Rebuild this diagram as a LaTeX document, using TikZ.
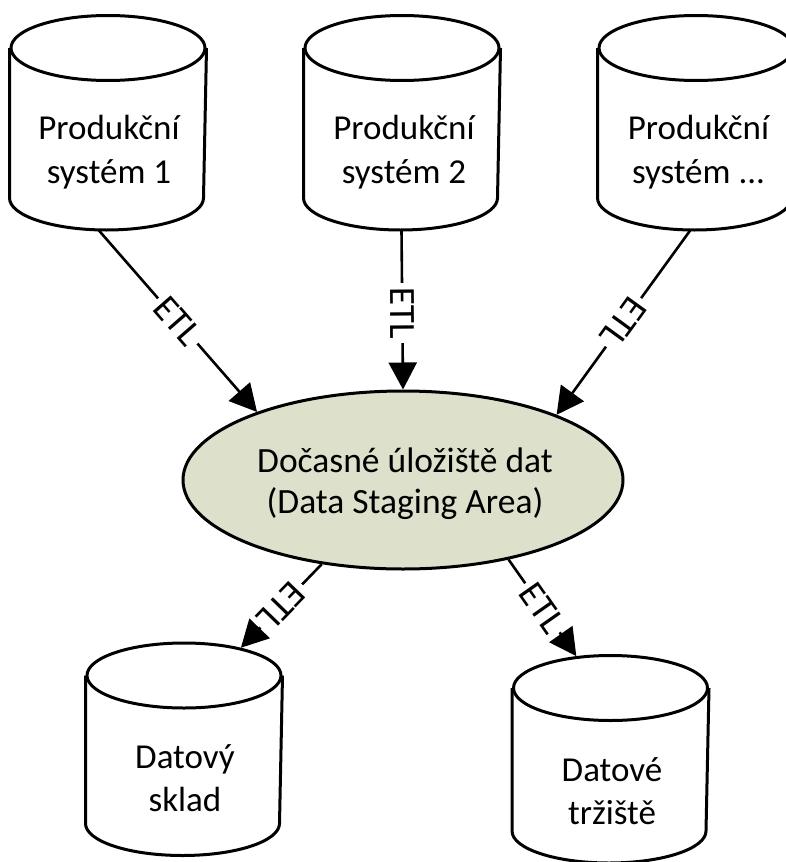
\documentclass[tikz,border=0pt]{standalone}
\usepackage{fontspec}
\setmainfont{Carlito}
\usetikzlibrary{shapes.geometric,arrows.meta,calc}
\definecolor{stagingfill}{HTML}{DDE1CB}
\begin{document}
\begin{tikzpicture}[x=1pt,y=-1pt,line width=3pt,
db node/.style={ellipse,draw,minimum width=194pt,minimum height=65pt,inner sep=0pt},
main node/.style={font=\fontsize{35}{44}\selectfont,align=center,inner sep=0pt},
etl node/.style={font=\fontsize{37}{37}\selectfont,fill=white,inner xsep=4pt,inner ysep=0pt,sloped,allow upside down},
etl edge/.style={line width=2.6pt,-{Triangle[length=27pt,width=28pt]}}]
\useasboundingbox (0,0) rectangle (786,862);
\begin{scope}
\node[db node] (s1) at (108,48) {};%1
\node[db node] (s2) at (402,48) {};%2
\node[db node] (s3) at (696,48) {};%3
\node[db node] (w1) at (184,675.5) {};%4
\node[db node] (w2) at (610.5,688) {};%5
\end{scope}
\foreach \n/\h in {s1/150,s2/150,s3/150,w1/148,w2/143}
\draw (\n.west) -- ++(0,\h) arc[start angle=180,end angle=270,x radius=97pt,y radius=32pt] coordinate (\n bot) arc[start angle=270,end angle=360,x radius=97pt,y radius=32pt] -- (\n.east);
\node[main node] (s1t) at (109,152.5) {Produkční\\systém 1};
\node[main node] (s2t) at (404,152.5) {Produkční\\systém 2};
\node[main node] (s3t) at (698.5,152.5) {Produkční\\systém ...};
\node[main node,font=\fontsize{35}{43}\selectfont] (w1t) at (185,778) {Datový\\sklad};
\node[main node,font=\fontsize{35}{43}\selectfont] (w2t) at (612,791.5) {Datové\\tržiště};
\node[ellipse,draw,fill=stagingfill,minimum width=440pt,minimum height=178pt,inner sep=0pt] (area) at (403,480) {};
\node[main node,font=\fontsize{35.5}{41}\selectfont] (areat) at (405,484) {Dočasné úložiště dat\\(Data Staging Area)};
\begin{scope}
\draw[etl edge] ($(s1bot)+(-8,0)$) -- node[etl node]{ETL} (area.155.6);
\draw[etl edge] ($(s2bot)+(1,0)$) -- node[etl node,pos=.52]{ETL} (area.north);
\draw[etl edge] ($(s3bot)+(-4,0)$) -- node[etl node]{ETL} (area.23);
\draw[etl edge] (area.226.4) -- node[etl node]{ETL} (w1.26.2);
\draw[etl edge] (area.323.7) -- node[etl node]{ETL} (w2.137.7);
\end{scope}
\end{tikzpicture}
\end{document}
